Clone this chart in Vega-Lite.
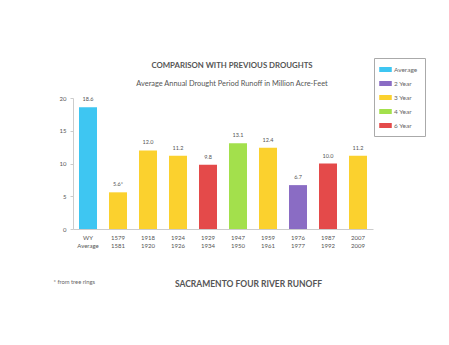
{
  "$schema": "https://vega.github.io/schema/vega-lite/v6.json",
  "autosize": "none",
  "width": 300,
  "height": 131,
  "padding": {"left": 73, "top": 98, "right": 76, "bottom": 116},
  "background": "white",
  "config": {
    "font": "Lato",
    "view": {"stroke": null}
  },
  "title": {
    "text": "COMPARISON WITH PREVIOUS DROUGHTS",
    "subtitle": "Average Annual Drought Period Runoff in Million Acre-Feet",
    "anchor": "middle",
    "frame": "group",
    "dx": 9,
    "offset": -30,
    "fontSize": 7.8,
    "fontWeight": "bold",
    "color": "#555555",
    "subtitleFontSize": 7.4,
    "subtitleColor": "#555555",
    "subtitlePadding": 10
  },
  "data": {
    "values": [
      {"period": "WY|Average", "runoff": 18.6, "label": "18.6", "type": "Average"},
      {"period": "1579|1581", "runoff": 5.6, "label": "5.6*", "type": "3 Year"},
      {"period": "1918|1920", "runoff": 12.0, "label": "12.0", "type": "3 Year"},
      {"period": "1924|1926", "runoff": 11.2, "label": "11.2", "type": "3 Year"},
      {"period": "1929|1934", "runoff": 9.8, "label": "9.8", "type": "6 Year"},
      {"period": "1947|1950", "runoff": 13.1, "label": "13.1", "type": "4 Year"},
      {"period": "1959|1961", "runoff": 12.4, "label": "12.4", "type": "3 Year"},
      {"period": "1976|1977", "runoff": 6.7, "label": "6.7", "type": "2 Year"},
      {"period": "1987|1992", "runoff": 10.0, "label": "10.0", "type": "6 Year"},
      {"period": "2007|2009", "runoff": 11.2, "label": "11.2", "type": "3 Year"}
    ]
  },
  "encoding": {
    "x": {
      "field": "period",
      "type": "nominal",
      "sort": null,
      "scale": {"paddingInner": 0.4, "paddingOuter": 0.2},
      "axis": {
        "title": "SACRAMENTO FOUR RIVER RUNOFF",
        "titleX": 175,
        "titleY": 54,
        "titleAlign": "center",
        "titleBaseline": "middle",
        "titleFontSize": 8.5,
        "titleFontWeight": "bold",
        "titleColor": "#555555",
        "labelExpr": "split(datum.label, '|')",
        "labelAngle": 0,
        "labelFontSize": 6,
        "labelColor": "#555555",
        "labelLineHeight": 8,
        "labelPadding": 5,
        "ticks": false,
        "domainColor": "#cccccc"
      }
    },
    "y": {
      "field": "runoff",
      "type": "quantitative",
      "scale": {"domain": [0, 20]},
      "axis": {
        "title": "* from tree rings",
        "titleAngle": 0,
        "titleX": -20,
        "titleY": 183,
        "titleAlign": "left",
        "titleBaseline": "middle",
        "titleFontSize": 5.8,
        "titleFontWeight": "normal",
        "titleColor": "#666666",
        "values": [0, 5, 10, 15, 20],
        "grid": false,
        "labelFontSize": 6,
        "labelColor": "#555555",
        "labelPadding": 4,
        "tickSize": 3,
        "tickColor": "#cccccc",
        "domainColor": "#cccccc"
      }
    }
  },
  "layer": [
    {
      "mark": {"type": "bar"},
      "encoding": {
        "color": {
          "field": "type",
          "type": "nominal",
          "scale": {
            "domain": ["Average", "2 Year", "3 Year", "4 Year", "6 Year"],
            "range": ["#3ec6f2", "#8a6cc4", "#fbd12e", "#a3e04c", "#e44a4a"]
          },
          "legend": {
            "title": null,
            "orient": "none",
            "legendX": 301,
            "legendY": -40,
            "strokeColor": "#aaaaaa",
            "padding": 7,
            "symbolType": "M-1.5,-0.6H1.5V0.6H-1.5Z",
            "symbolSize": 70,
            "symbolStrokeWidth": 0,
            "labelFontSize": 6.5,
            "labelColor": "#666666",
            "rowPadding": 6,
            "labelOffset": 4
          }
        }
      }
    },
    {
      "mark": {"type": "text", "dy": -5, "fontSize": 5.5, "color": "#555555", "baseline": "bottom"},
      "encoding": {"text": {"field": "label"}}
    }
  ]
}
